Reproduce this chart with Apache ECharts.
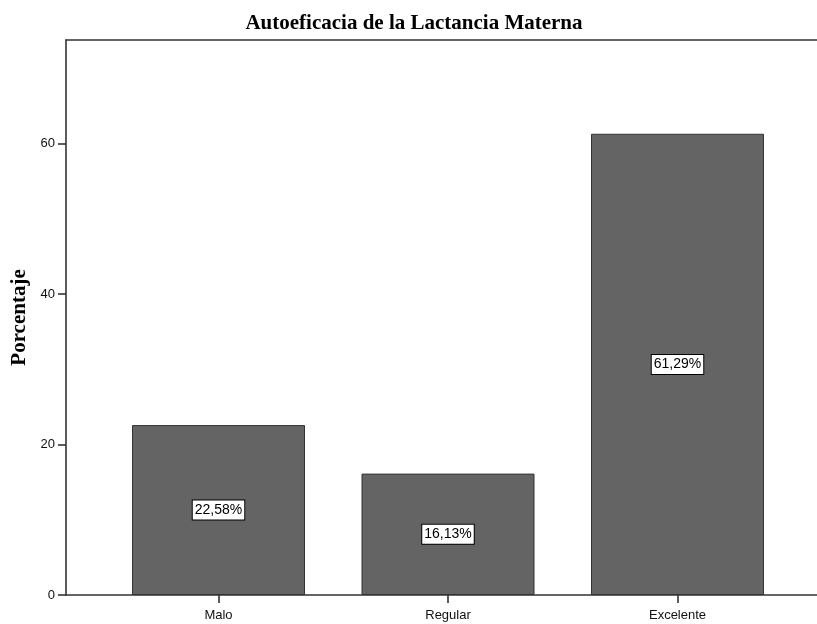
<!DOCTYPE html>
<html>
<head>
<meta charset="utf-8">
<script src="https://cdn.jsdelivr.net/npm/echarts@6/dist/echarts.min.js"></script>
<style>html,body{margin:0;padding:0;background:#fff}#c{width:817px;height:624px}</style>
</head>
<body>
<div id="c"></div>
<script>
var categories = ['Malo', 'Regular', 'Excelente'];
var percentages = [22.58, 16.13, 61.29];
var yTicks = [0, 20, 40, 60];
var titleText = 'Autoeficacia de la Lactancia Materna';
var yName = 'Porcentaje';

var chart = echarts.init(document.getElementById('c'), null, {renderer: 'canvas'});
var sans = '"Liberation Sans", Arial, sans-serif';
var serif = '"Liberation Serif", "Times New Roman", serif';
var axisColor = '#333';
var lineW = 1.6;
var yMax = 73.75;

chart.setOption({
  animation: false,
  backgroundColor: '#fff',
  title: {
    text: titleText,
    left: 409,
    textAlign: 'center',
    top: 8,
    textStyle: {fontFamily: serif, fontWeight: 'bold', fontSize: 21, color: '#000'}
  },
  grid: [
    {left: 66, width: 790, top: 40, bottom: 29, show: false},
    {left: 103.75, right: 24.75, top: 40, bottom: 29}
  ],
  xAxis: [
    {gridIndex: 0, type: 'value', min: 0, max: 1, position: 'bottom',
     axisLine: {show: true, onZero: false, lineStyle: {color: axisColor, width: lineW}},
     axisTick: {show: false}, axisLabel: {show: false}, splitLine: {show: false}},
    {
      gridIndex: 1, type: 'category', data: categories,
      axisLine: {show: false},
      axisTick: {show: true, alignWithLabel: true, length: 8, lineStyle: {color: axisColor, width: lineW}},
      axisLabel: {fontFamily: sans, fontSize: 13, color: '#111', margin: 14},
      splitLine: {show: false}
    },
    {gridIndex: 0, type: 'value', min: 0, max: 1, position: 'top',
     axisLine: {show: true, onZero: false, lineStyle: {color: axisColor, width: lineW}},
     axisTick: {show: false}, axisLabel: {show: false}, splitLine: {show: false}}
  ],
  yAxis: [
    {
      gridIndex: 0, type: 'value', min: 0, max: yMax, interval: 20, position: 'left',
      axisLine: {show: true, onZero: false, lineStyle: {color: axisColor, width: lineW}},
      axisTick: {show: true, length: 8, customValues: yTicks, lineStyle: {color: axisColor, width: lineW}},
      axisLabel: {customValues: yTicks, fontFamily: sans, fontSize: 13, color: '#111', margin: 11},
      splitLine: {show: false},
      name: yName, nameLocation: 'middle', nameGap: 35,
      nameTextStyle: {fontFamily: serif, fontWeight: 'bold', fontSize: 21, color: '#000'}
    },
    {gridIndex: 1, type: 'value', min: 0, max: yMax, show: false}
  ],
  series: [{
    type: 'bar',
    xAxisIndex: 1, yAxisIndex: 1,
    data: percentages,
    barWidth: 173,
    itemStyle: {color: '#646464', borderColor: '#333', borderWidth: 1},
    label: {
      show: true, position: 'inside',
      formatter: function (p) { return p.value.toFixed(2).replace('.', ',') + '%'; },
      backgroundColor: '#fff', borderColor: '#000', borderWidth: 1,
      padding: [3, 2, 2, 2],
      fontFamily: sans, fontSize: 14, color: '#000'
    }
  }]
});
</script>
</body>
</html>
